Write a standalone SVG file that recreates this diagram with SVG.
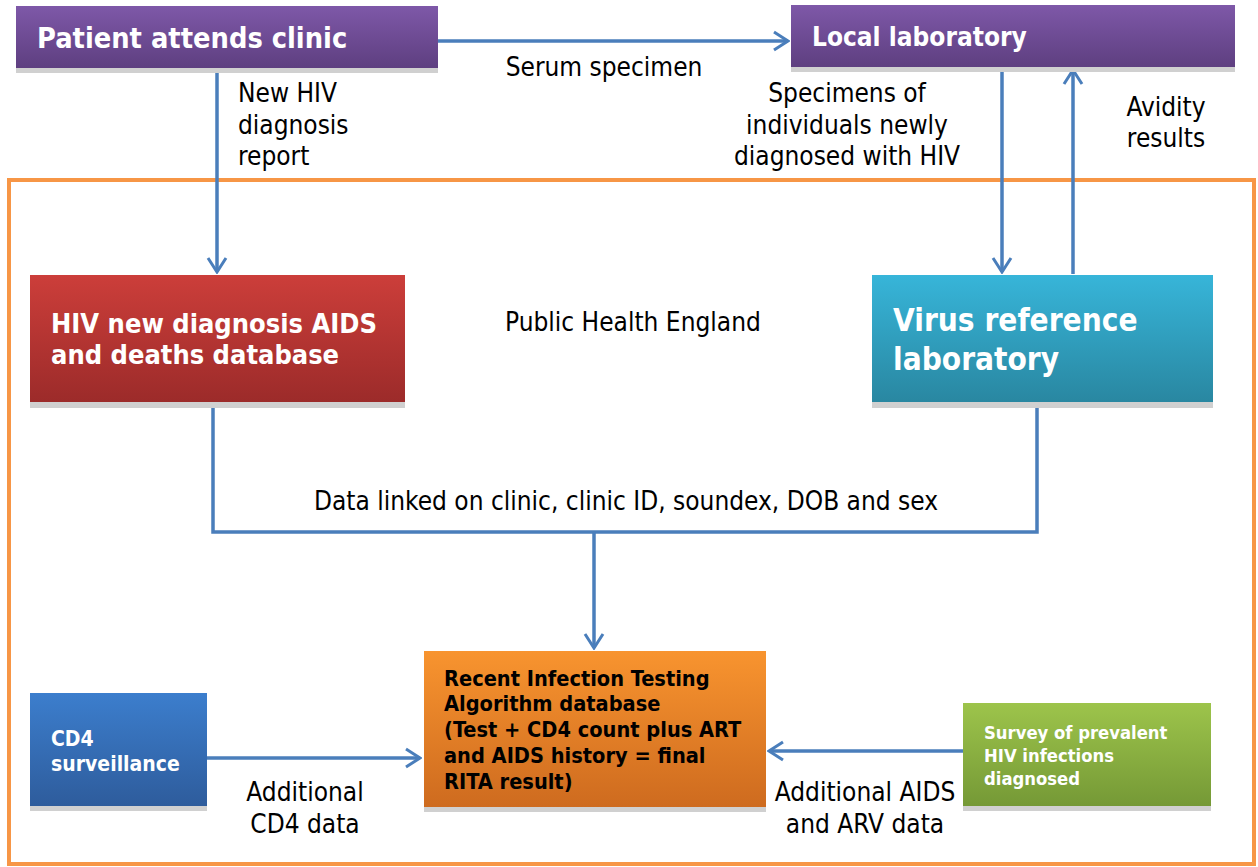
<svg xmlns="http://www.w3.org/2000/svg" width="1258" height="867" viewBox="0 0 1258 867">
<defs>
<linearGradient id="gPurple" x1="0" y1="0" x2="0" y2="1"><stop offset="0" stop-color="#7E58A8"/><stop offset="1" stop-color="#5E3F80"/></linearGradient>
<linearGradient id="gRed" x1="0" y1="0" x2="0" y2="1"><stop offset="0" stop-color="#CC3E3A"/><stop offset="1" stop-color="#9C2B2A"/></linearGradient>
<linearGradient id="gCyan" x1="0" y1="0" x2="0" y2="1"><stop offset="0" stop-color="#37B5D9"/><stop offset="1" stop-color="#2987A1"/></linearGradient>
<linearGradient id="gOrange" x1="0" y1="0" x2="0" y2="1"><stop offset="0" stop-color="#F8942F"/><stop offset="1" stop-color="#CE6B1F"/></linearGradient>
<linearGradient id="gBlue" x1="0" y1="0" x2="0" y2="1"><stop offset="0" stop-color="#3C7ECD"/><stop offset="1" stop-color="#2E5C9C"/></linearGradient>
<linearGradient id="gGreen" x1="0" y1="0" x2="0" y2="1"><stop offset="0" stop-color="#9DC44B"/><stop offset="1" stop-color="#759936"/></linearGradient>
<marker id="arrL" viewBox="0 0 22 22" refX="20" refY="11" markerWidth="22" markerHeight="22" markerUnits="userSpaceOnUse" orient="auto">
<path d="M6,2 L20,11 L6,20" fill="none" stroke="#4A7EBB" stroke-width="3"/>
</marker>
</defs>
<style>
.shadow{fill:#D0D0D0}
.lbl{font-family:"DejaVu Sans Condensed","DejaVu Sans",sans-serif;font-size:26px;fill:#000}
.wb{font-family:"DejaVu Sans Condensed","DejaVu Sans",sans-serif;font-weight:bold;fill:#fff}
.bb{font-family:"DejaVu Sans Condensed","DejaVu Sans",sans-serif;font-weight:bold;fill:#000}
.con{fill:none;stroke:#4A7EBB;stroke-width:3.5}
</style>
<rect width="1258" height="867" fill="#fff"/>
<rect id="phe-border" x="9" y="180" width="1245" height="684" fill="none" stroke="#F79646" stroke-width="4"/>
<text class="lbl" x="505" y="331">Public Health England</text>

<g id="connectors">
<path class="con" d="M438,41 H788" marker-end="url(#arrL)"/>
<path class="con" d="M217,70 V272" marker-end="url(#arrL)"/>
<path class="con" d="M1002,70 V272" marker-end="url(#arrL)"/>
<path class="con" d="M1073,274 V70" marker-end="url(#arrL)"/>
<path class="con" d="M213,408 V532 H1037 V408"/>
<path class="con" d="M594,532 V648" marker-end="url(#arrL)"/>
<path class="con" d="M207,758 H420" marker-end="url(#arrL)"/>
<path class="con" d="M963,751 H769" marker-end="url(#arrL)"/>
<text class="lbl" x="238" y="102">New HIV</text>
<text class="lbl" x="238" y="134">diagnosis</text>
<text class="lbl" x="238" y="165">report</text>
<text class="lbl" x="604" y="76" text-anchor="middle">Serum specimen</text>
<text class="lbl" x="847" y="102" text-anchor="middle">Specimens of</text>
<text class="lbl" x="847" y="134" text-anchor="middle">individuals newly</text>
<text class="lbl" x="847" y="165" text-anchor="middle">diagnosed with HIV</text>
<text class="lbl" x="1166" y="116" text-anchor="middle">Avidity</text>
<text class="lbl" x="1166" y="147" text-anchor="middle">results</text>
<text class="lbl" x="626" y="510" text-anchor="middle">Data linked on clinic, clinic ID, soundex, DOB and sex</text>
<text class="lbl" x="305" y="801" text-anchor="middle">Additional</text>
<text class="lbl" x="305" y="833" text-anchor="middle">CD4 data</text>
<text class="lbl" x="865" y="801" text-anchor="middle">Additional AIDS</text>
<text class="lbl" x="865" y="833" text-anchor="middle">and ARV data</text>
</g>

<g id="patient-clinic">
<rect class="shadow" x="16" y="68" width="422" height="5"/>
<rect x="16" y="6" width="422" height="62" fill="url(#gPurple)"/>
<text class="wb" x="37" y="48" font-size="28.7">Patient attends clinic</text>
</g>

<g id="local-lab">
<rect class="shadow" x="791" y="67" width="444" height="5"/>
<rect x="791" y="5" width="444" height="62" fill="url(#gPurple)"/>
<text class="wb" x="812" y="46" font-size="26">Local laboratory</text>
</g>

<g id="hiv-db">
<rect class="shadow" x="30" y="402" width="375" height="6"/>
<rect x="30" y="275" width="375" height="127" fill="url(#gRed)"/>
<text class="wb" x="51" y="333" font-size="27">HIV new diagnosis AIDS</text>
<text class="wb" x="51" y="364" font-size="27">and deaths database</text>
</g>

<g id="virus-lab">
<rect class="shadow" x="872" y="402" width="341" height="6"/>
<rect x="872" y="275" width="341" height="127" fill="url(#gCyan)"/>
<text class="wb" x="893" y="331" font-size="31.3">Virus reference</text>
<text class="wb" x="893" y="370" font-size="31.3">laboratory</text>
</g>

<g id="rita-db">
<rect class="shadow" x="424" y="807" width="342" height="5"/>
<rect x="424" y="651" width="342" height="156" fill="url(#gOrange)"/>
<text class="bb" x="444" y="686" font-size="21.6">Recent Infection Testing</text>
<text class="bb" x="444" y="711" font-size="21.6">Algorithm database</text>
<text class="bb" x="444" y="737" font-size="21.6">(Test + CD4 count plus ART</text>
<text class="bb" x="444" y="763" font-size="21.6">and AIDS history = final</text>
<text class="bb" x="444" y="789" font-size="21.6">RITA result)</text>
</g>

<g id="cd4-surveillance">
<rect class="shadow" x="30" y="806" width="177" height="5"/>
<rect x="30" y="693" width="177" height="113" fill="url(#gBlue)"/>
<text class="wb" x="51" y="746" font-size="21">CD4</text>
<text class="wb" x="51" y="771" font-size="21">surveillance</text>
</g>

<g id="survey">
<rect class="shadow" x="963" y="806" width="248" height="5"/>
<rect x="963" y="703" width="248" height="103" fill="url(#gGreen)"/>
<text class="wb" x="984" y="739" font-size="18.3">Survey of prevalent</text>
<text class="wb" x="984" y="762" font-size="18.3">HIV infections</text>
<text class="wb" x="984" y="785" font-size="18.3">diagnosed</text>
</g>
</svg>
